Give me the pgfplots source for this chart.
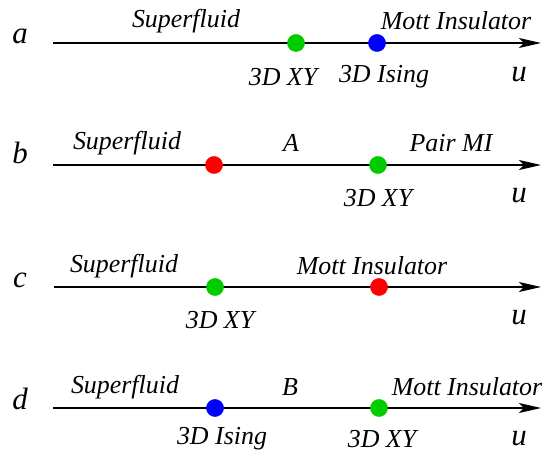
\documentclass[border=0pt]{standalone}
\usepackage{pgfplots}
\pgfplotsset{compat=1.18}
\usepackage{fontspec}
\setmainfont{Liberation Serif}
\usetikzlibrary{arrows.meta}
\definecolor{dgreen}{RGB}{0,204,0}
\definecolor{dred}{RGB}{255,0,0}
\definecolor{dblue}{RGB}{0,0,255}
\tikzset{lbl/.style={font=\fontsize{26}{30}\selectfont\itshape, inner sep=0pt},
         big/.style={font=\fontsize{31}{34}\selectfont\itshape, inner sep=0pt},
         arr/.style={black, line width=1.2bp, -{Stealth[length=22bp,width=10bp,inset=5bp]}}}
\begin{document}
\begin{tikzpicture}
\begin{axis}[
  hide axis, scale only axis, width=554bp, height=453bp,
  xmin=0, xmax=554, ymin=-453, ymax=0, clip=false,
]
\path (rel axis cs:0,0) rectangle (rel axis cs:1,1);
% axis lines
\addplot[arr] coordinates {(53,-43) (541,-43)};
\addplot[arr] coordinates {(53,-165) (541,-165)};
\addplot[arr] coordinates {(54,-287) (541,-287)};
\addplot[arr] coordinates {(53,-408) (541,-408)};
% dots
\addplot[only marks, mark=*, mark size=8.6bp, color=dgreen] coordinates {(296,-43) (378,-165) (215,-287) (379,-408)};
\addplot[only marks, mark=*, mark size=8.6bp, color=dblue] coordinates {(377,-43) (215,-408)};
\addplot[only marks, mark=*, mark size=8.6bp, color=dred] coordinates {(214,-165) (379,-287)};
% row a
\node[big] at (axis cs:20,-36) {a};
\node[lbl] at (axis cs:186,-21) {Superfluid};
\node[lbl] at (axis cs:456,-21) {Mott Insulator};
\node[lbl] at (axis cs:283,-77) {3D XY};
\node[lbl] at (axis cs:384,-77) {3D Ising};
\node[big] at (axis cs:519,-75) {u};
% row b
\node[big] at (axis cs:20,-153) {b};
\node[lbl] at (axis cs:127,-143) {Superfluid};
\node[lbl] at (axis cs:291,-143) {A};
\node[lbl] at (axis cs:451,-143) {Pair MI};
\node[lbl] at (axis cs:378,-198) {3D XY};
\node[big] at (axis cs:519,-196) {u};
% row c
\node[big] at (axis cs:20,-280) {c};
\node[lbl] at (axis cs:124,-266) {Superfluid};
\node[lbl] at (axis cs:372,-266) {Mott Insulator};
\node[lbl] at (axis cs:220,-320) {3D XY};
\node[big] at (axis cs:519,-318) {u};
% row d
\node[big] at (axis cs:20,-399) {d};
\node[lbl] at (axis cs:125,-387) {Superfluid};
\node[lbl] at (axis cs:290,-387) {B};
\node[lbl] at (axis cs:467,-387) {Mott Insulator};
\node[lbl] at (axis cs:222,-439) {3D Ising};
\node[lbl] at (axis cs:382,-439) {3D XY};
\node[big] at (axis cs:519,-439) {u};
\end{axis}
\end{tikzpicture}
\end{document}
